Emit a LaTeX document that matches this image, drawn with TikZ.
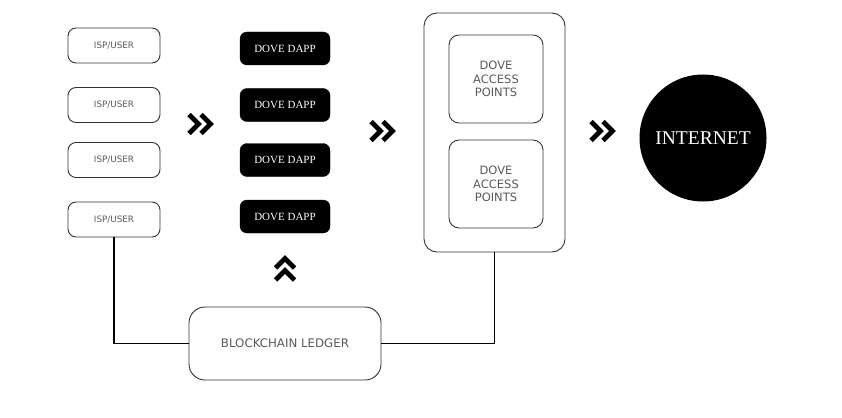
\documentclass[tikz,border=0pt]{standalone}
\usepackage{fontspec}
\setmainfont{Liberation Serif}
\setsansfont{DejaVu Sans}
\begin{document}
\begin{tikzpicture}[x=1pt,y=-1pt,
  box/.style={draw=black!80,line width=0.9pt,rounded corners=8pt,inner sep=0pt},
  ispbox/.style={box,minimum width=92pt,minimum height=35pt,font=\sffamily\fontsize{8.8}{10}\selectfont,text=black!65},
  dappbox/.style={draw=black,fill=black,rounded corners=7pt,inner sep=0pt,minimum width=90pt,minimum height=33pt,text=white,font=\rmfamily\fontsize{11}{12}\selectfont},
  apbox/.style={box,rounded corners=10pt,minimum width=94pt,minimum height=88pt,align=center,font=\sffamily\fontsize{11.5}{13.7}\selectfont,text=black!65},
  link/.style={draw=black,line width=1.1pt},
  chev/.style={line width=4.8pt,line join=miter,line cap=butt},
  pics/dchev/.style={code={
    \draw[chev] (-12,-9.5)--(-2.5,0)--(-12,9.5);
    \draw[chev] (0,-9.5)--(9.5,0)--(0,9.5);
  }}]
\useasboundingbox (0,0) rectangle (842,417);
% ISP/USER
\node[ispbox] (isp1) at (114,45.5) {ISP/USER};
\node[ispbox] (isp2) at (114,105) {ISP/USER};
\node[ispbox] (isp3) at (114,160) {ISP/USER};
\node[ispbox] (isp4) at (114,219.5) {ISP/USER};
% DOVE DAPP
\node[dappbox] (dapp1) at (285,48.5) {DOVE DAPP};
\node[dappbox] (dapp2) at (285,105) {DOVE DAPP};
\node[dappbox] (dapp3) at (285,160) {DOVE DAPP};
\node[dappbox] (dapp4) at (285,216.5) {DOVE DAPP};
% access points
\node[box,rounded corners=13pt,minimum width=141pt,minimum height=239pt] (outer) at (494.5,132.5) {};
\node[apbox] (ap1) at (496,79) {DOVE\\ACCESS\\POINTS};
\node[apbox] (ap2) at (496,184) {DOVE\\ACCESS\\POINTS};
% internet
\node[circle,fill=black,minimum size=127pt,inner sep=0pt,text=white,font=\rmfamily\fontsize{19.5}{22}\selectfont] (net) at (703,138) {INTERNET};
% ledger
\node[box,rounded corners=16pt,minimum width=192pt,minimum height=73pt,font=\sffamily\fontsize{11.8}{13}\selectfont,text=black!65] (ledger) at (285,343.5) {BLOCKCHAIN LEDGER};
% connectors
\draw[link] (isp4.south) |- (ledger.west);
\draw[link] (ledger.east) -| (outer.south);
% chevrons
\coordinate (c1) at (201,124);
\coordinate (c2) at (383,131);
\coordinate (c3) at (603,131);
\coordinate (c4) at (285,268);
\pic at (c1) {dchev};
\pic at (c2) {dchev};
\pic at (c3) {dchev};
\pic[rotate=90] at (c4) {dchev};
\end{tikzpicture}
\end{document}
